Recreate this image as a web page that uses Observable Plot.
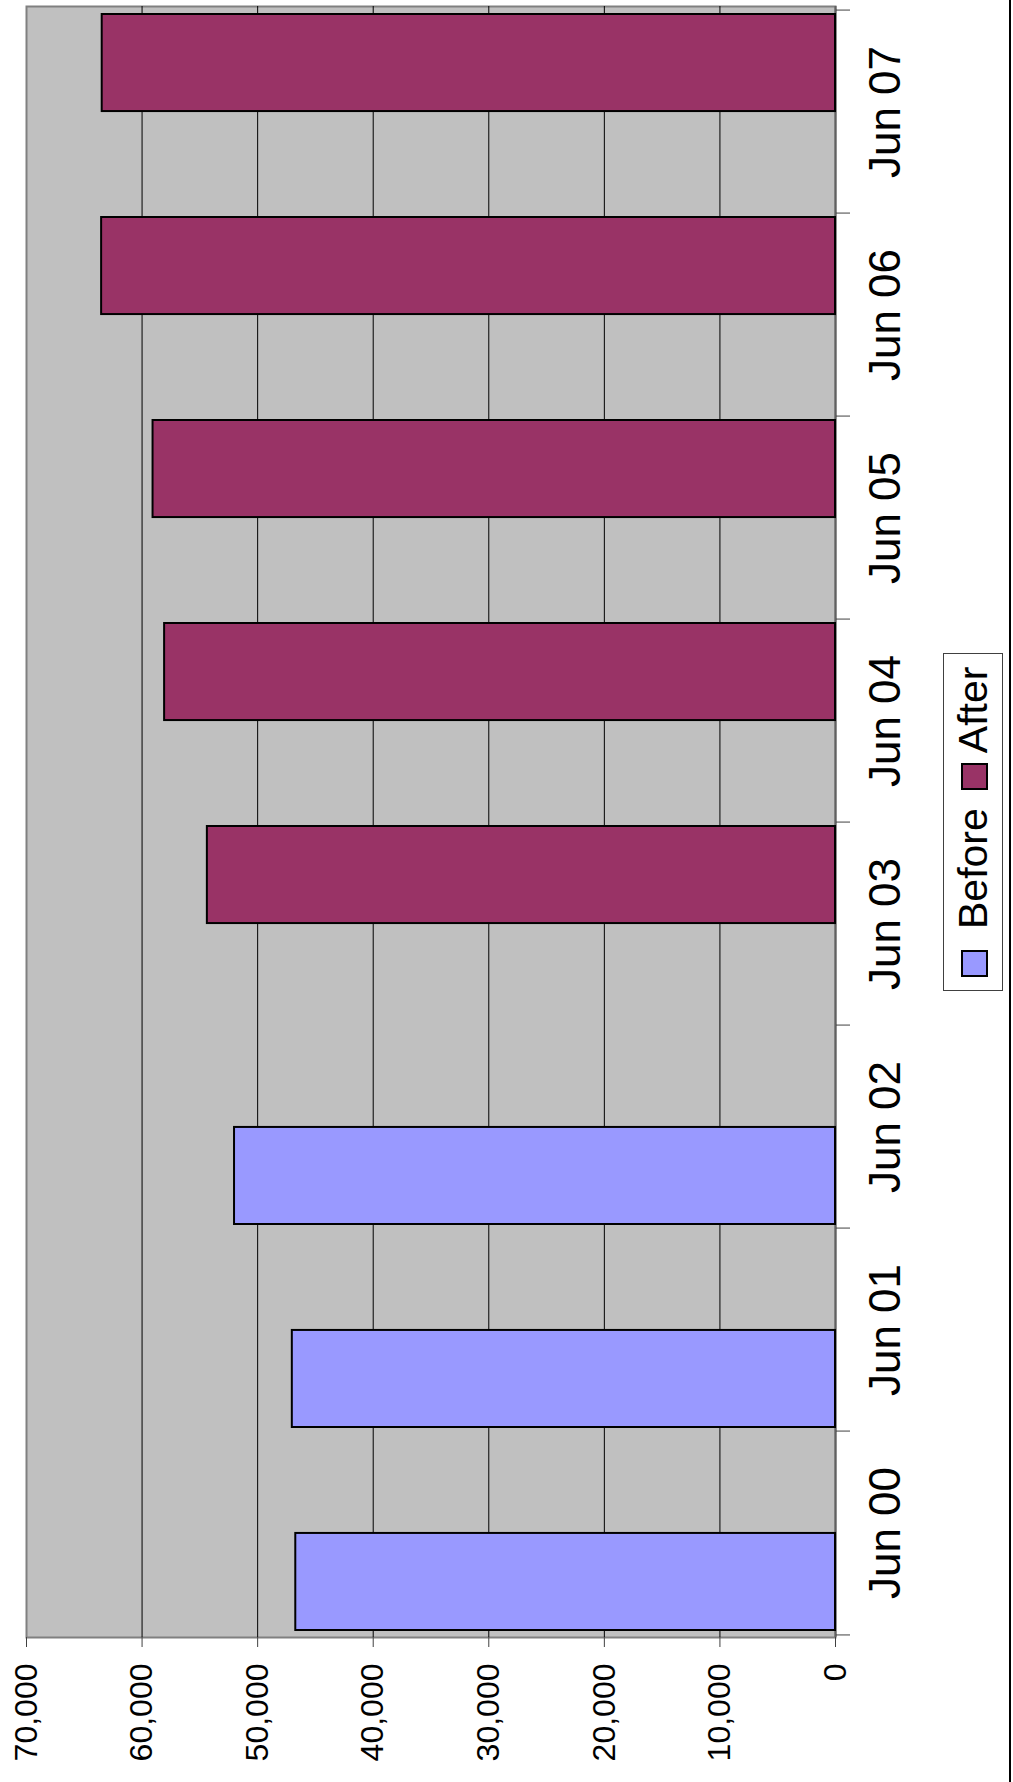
<!DOCTYPE html>
<html><head><meta charset="utf-8">
<script src="https://cdn.jsdelivr.net/npm/d3@7"></script>
<script src="https://cdn.jsdelivr.net/npm/@observablehq/plot@0.6"></script>
<style>
html,body{margin:0;padding:0;background:#fff;}
#wrap{position:relative;width:1013px;height:1782px;overflow:hidden;font-family:"Liberation Sans",Arial,sans-serif;}
#chart svg{display:block;}
#legend{position:absolute;left:943px;top:991px;width:338px;height:60px;transform-origin:0 0;transform:rotate(-90deg);box-sizing:border-box;border:1px solid #404040;background:#fff;display:flex;align-items:center;font-size:41px;color:#000;line-height:1;}
#legend .sw{width:27px;height:27px;box-sizing:border-box;border:2px solid #000;flex:none;margin-top:3px;}
#edge{position:absolute;left:1009px;top:0;width:2px;height:1782px;background:#000;}
</style></head>
<body><div id="wrap"><div id="chart"></div><div id="legend"></div><div id="edge"></div></div>
<script>
const categories = ["Jun 00","Jun 01","Jun 02","Jun 03","Jun 04","Jun 05","Jun 06","Jun 07"];
const beforeValues = [46700, 47000, 52000, null, null, null, null, null];
const afterValues = [null, null, null, 54350, 58050, 59050, 63500, 63450];
const valueTicks = [0, 10000, 20000, 30000, 40000, 50000, 60000, 70000];
const seriesNames = ["Before", "After"];
const seriesColors = ["#9999FF", "#993366"];

const beforeRows = categories.map((c, i) => ({category: c, series: seriesNames[0], value: beforeValues[i]})).filter(d => d.value != null);
const afterRows = categories.map((c, i) => ({category: c, series: seriesNames[1], value: afterValues[i]})).filter(d => d.value != null);

const W = 1013, H = 1782, mL = 26, mR = 178, mT = 6, mB = 145;
const bw = (H - mT - mB) / categories.length;

const chart = Plot.plot({
  width: W, height: H,
  marginLeft: mL, marginRight: mR, marginTop: mT, marginBottom: mB,
  style: {fontFamily: "Liberation Sans, Arial, sans-serif", background: "transparent", color: "#000", overflow: "visible"},
  x: {domain: [valueTicks[0], valueTicks[valueTicks.length - 1]], reverse: true, label: null},
  y: {domain: categories.slice().reverse(), padding: 0, label: null},
  marks: [
    Plot.frame({fill: "#C0C0C0", stroke: "#808080", strokeWidth: 2}),
    Plot.ruleX(valueTicks.slice(1, -1), {stroke: "#000", strokeWidth: 1}),
    Plot.ruleX([0], {stroke: "#606060", strokeWidth: 2}),
    Plot.barX(beforeRows, {x: "value", y: "category", fill: seriesColors[0], stroke: "#000", strokeWidth: 2, insetTop: bw / 2, insetBottom: 4}),
    Plot.barX(afterRows, {x: "value", y: "category", fill: seriesColors[1], stroke: "#000", strokeWidth: 2, insetTop: 4, insetBottom: bw / 2}),
    Plot.axisX(valueTicks, {anchor: "bottom", tickSize: 10, tickPadding: 16, tickRotate: -90, tickFormat: d3.format(","), fontSize: 32, stroke: "#404040", label: null}),
    Plot.axisY({anchor: "right", tickSize: 14, dy: -bw / 2, fill: "none", stroke: "#404040", label: null}),
    Plot.axisY([categories[0]], {anchor: "right", tickSize: 14, dy: bw / 2, fill: "none", stroke: "#404040", label: null}),
    Plot.axisY({anchor: "right", tickSize: 0, tickPadding: 50, tickRotate: -90, textAnchor: "middle", lineAnchor: "middle", fontSize: 44, label: null})
  ]
});
document.getElementById("chart").appendChild(chart);

const legend = document.getElementById("legend");
const gaps = [[13, 21], [18, 10]];
seriesNames.forEach((name, i) => {
  const sw = document.createElement("div");
  sw.className = "sw";
  sw.style.background = seriesColors[i];
  sw.style.marginLeft = gaps[i][0] + "px";
  const t = document.createElement("span");
  t.textContent = name;
  t.style.marginLeft = gaps[i][1] + "px";
  legend.appendChild(sw);
  legend.appendChild(t);
});
</script>
</body></html>
